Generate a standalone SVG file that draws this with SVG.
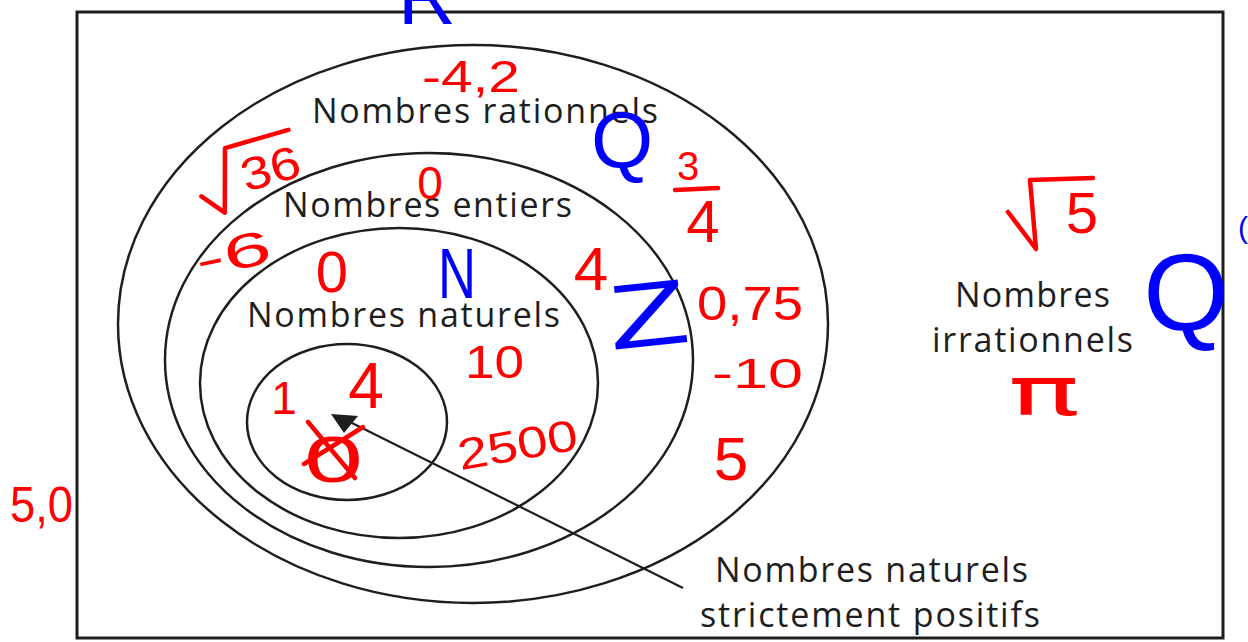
<svg xmlns="http://www.w3.org/2000/svg" width="1248" height="642" viewBox="0 0 1248 642">
<style>
.set{fill:none;stroke:#1e1e1e;stroke-width:2.5}
.lbl{font-family:"Open Sans","Noto Sans","Liberation Sans",sans-serif;font-size:34px;fill:#1e1e1e}
.r{font-family:"Liberation Sans",Arial,sans-serif;fill:#f00}
.b{font-family:"Liberation Sans",Arial,sans-serif;fill:#00f}
.rs{stroke:#f00;stroke-width:4.5;stroke-linecap:round;stroke-linejoin:round;fill:none}
</style>
<rect width="1248" height="642" fill="#fff"/>
<g id="frame">
<rect x="77" y="12" width="1146" height="626" fill="none" stroke="#1e1e1e" stroke-width="3"/>
</g>
<g id="set-rationnels">
<ellipse class="set" cx="473" cy="324" rx="355" ry="279"/>
<text class="lbl" x="312" y="123" textLength="346">Nombres rationnels</text>
</g>
<g id="set-entiers">
<ellipse class="set" cx="429" cy="360" rx="264" ry="207"/>
<text class="lbl" x="283" y="217" textLength="289">Nombres entiers</text>
</g>
<g id="set-naturels">
<ellipse class="set" cx="399" cy="383" rx="199" ry="155"/>
<text class="lbl" x="247" y="327" textLength="313">Nombres naturels</text>
</g>
<g id="set-naturels-positifs">
<ellipse class="set" cx="347" cy="422" rx="100" ry="78"/>
<text class="lbl" x="715" y="582" textLength="313">Nombres naturels</text>
<text class="lbl" x="700" y="627" textLength="340">strictement positifs</text>
</g>
<g id="set-irrationnels">
<text class="lbl" x="955" y="307" textLength="155">Nombres</text>
<text class="lbl" x="932" y="352" textLength="201">irrationnels</text>
</g>
<g id="connectors">
<line x1="683" y1="588" x2="352" y2="423" stroke="#1e1e1e" stroke-width="2.2"/>
<polygon points="331,414 358,416 344,433" fill="#1e1e1e"/>
</g>
<g id="annotations-red">
<text class="r" x="422" y="92" font-size="44" textLength="98" lengthAdjust="spacingAndGlyphs">-4,2</text>
<g transform="rotate(-16 250 170)">
<polyline class="rs" points="196,182 214,204 232,142 298,142"/>
<text class="r" x="240" y="190" font-size="46" textLength="60" lengthAdjust="spacingAndGlyphs">36</text>
</g>
<text class="r" x="430" y="199" font-size="46" text-anchor="middle">0</text>
<text class="r" x="196" y="270" font-size="48" textLength="76" lengthAdjust="spacingAndGlyphs" transform="rotate(-12 234 258)">-6</text>
<text class="r" x="332" y="292" font-size="58" text-anchor="middle">0</text>
<text class="r" x="591" y="290" font-size="62" text-anchor="middle">4</text>
<text class="r" x="688" y="180" font-size="40" text-anchor="middle">3</text>
<line class="rs" x1="675" y1="190" x2="718" y2="188"/>
<text class="r" x="703" y="242" font-size="60" text-anchor="middle">4</text>
<text class="r" x="697" y="320" font-size="48" textLength="106" lengthAdjust="spacingAndGlyphs">0,75</text>
<text class="r" x="712" y="388" font-size="42" textLength="91" lengthAdjust="spacingAndGlyphs">-10</text>
<text class="r" x="731" y="480" font-size="62" text-anchor="middle">5</text>
<text class="r" x="465" y="378" font-size="46" textLength="59" lengthAdjust="spacingAndGlyphs">10</text>
<text class="r" x="457" y="460" font-size="44" textLength="121" lengthAdjust="spacingAndGlyphs" transform="rotate(-10 517 445)">2500</text>
<text class="r" x="284" y="414" font-size="46" text-anchor="middle">1</text>
<text class="r" x="366" y="408" font-size="64" text-anchor="middle">4</text>
<text class="r" x="304" y="482" font-size="64" textLength="59" lengthAdjust="spacingAndGlyphs">0</text>
<line class="rs" x1="308" y1="422" x2="355" y2="478"/>
<line class="rs" x1="304" y1="464" x2="363" y2="427"/>
<text class="r" x="10" y="522" font-size="50" textLength="63" lengthAdjust="spacingAndGlyphs">5,0</text>
<polyline class="rs" points="1008,212 1036,249 1030,180 1093,178"/>
<text class="r" x="1082" y="233" font-size="58" text-anchor="middle">5</text>
<text class="r" x="1008" y="415" font-size="68" textLength="72" lengthAdjust="spacingAndGlyphs" style="font-family:'DejaVu Sans',sans-serif">π</text>
</g>
<g id="annotations-blue">
<text class="b" x="398" y="24" font-size="80">R</text>
<text class="b" x="622" y="168" font-size="80" text-anchor="middle">Q</text>
<text class="b" x="438" y="298" font-size="70" textLength="38" lengthAdjust="spacingAndGlyphs">N</text>
<text class="b" x="608" y="346" font-size="92" textLength="80" lengthAdjust="spacingAndGlyphs" transform="rotate(-6 648 312)">Z</text>
<text class="b" x="1186" y="330" font-size="110" text-anchor="middle">Q</text>
<text class="b" x="1238" y="238" font-size="30">(</text>
</g>
</svg>
